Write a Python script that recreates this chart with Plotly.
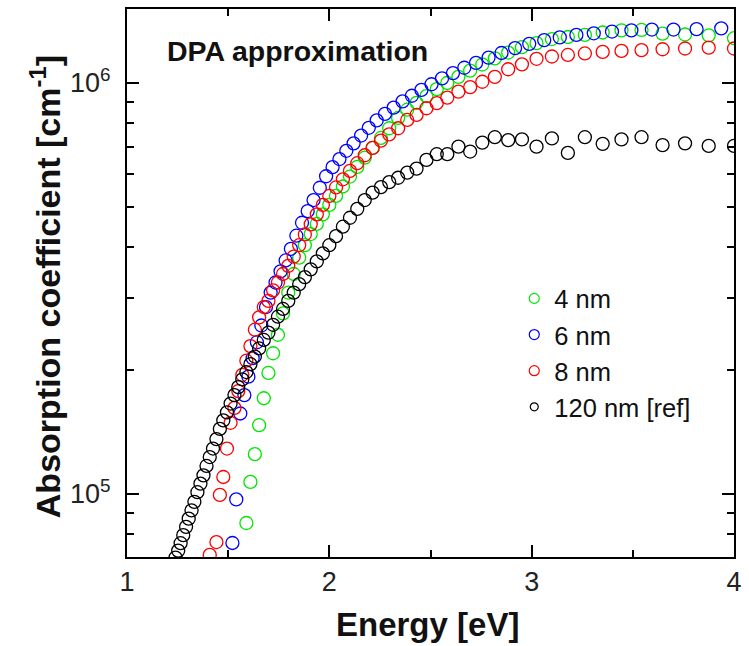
import plotly.graph_objects as go

# Photon energy grids [eV]
energy_a = [4.000, 3.875, 3.758, 3.647, 3.543, 3.444, 3.351, 3.263, 3.179, 3.100,
            3.024, 2.952, 2.884, 2.818, 2.756, 2.696, 2.638, 2.583, 2.531, 2.480,
            2.431, 2.385, 2.340, 2.296, 2.255, 2.214, 2.175, 2.138, 2.102, 2.067,
            2.033, 2.000, 1.968, 1.938, 1.908, 1.879, 1.851, 1.824, 1.797, 1.771,
            1.746, 1.722, 1.699, 1.676, 1.653, 1.632, 1.610, 1.590, 1.570, 1.550,
            1.531, 1.512, 1.494, 1.476, 1.459, 1.442, 1.425, 1.409, 1.393, 1.378,
            1.363, 1.348, 1.333, 1.319, 1.305, 1.292, 1.278, 1.265, 1.253, 1.240]
energy_b = [3.937, 3.815, 3.701, 3.594, 3.493, 3.397, 3.307, 3.221, 3.139, 3.062,
            2.988, 2.918, 2.851, 2.787, 2.725, 2.667, 2.611, 2.557, 2.505, 2.455,
            2.408, 2.362, 2.318, 2.275, 2.234, 2.195, 2.157, 2.120, 2.084, 2.050,
            2.016, 1.984, 1.953, 1.922, 1.893, 1.865, 1.837, 1.810, 1.784, 1.759,
            1.734, 1.710, 1.687, 1.664, 1.642, 1.621, 1.600, 1.580, 1.560, 1.540,
            1.521]

# Absorption coefficient [cm^-1]
alpha_4nm = [1.285e6, 1.306e6, 1.312e6, 1.318e6, 1.346e6, 1.343e6, 1.327e6, 1.309e6, 1.294e6, 1.279e6,
             1.250e6, 1.222e6, 1.186e6, 1.148e6, 1.109e6, 1.072e6, 1.035e6, 1.000e6, 966e3, 929e3,
             895e3, 861e3, 822e3, 776e3, 735e3, 695e3, 658e3, 625e3, 592e3, 560e3,
             531e3, 505e3, 479e3, 454e3, 429e3, 403e3, 376e3, 343e3, 309e3, 275e3,
             244e3, 220e3, 197e3, 171e3, 147e3, 125e3, 107e3, 85e3]
alpha_6nm = [1.358e6, 1.352e6, 1.349e6, 1.349e6, 1.343e6, 1.334e6, 1.321e6, 1.309e6, 1.291e6, 1.271e6,
             1.245e6, 1.216e6, 1.183e6, 1.153e6, 1.119e6, 1.089e6, 1.057e6, 1.026e6, 993e3, 962e3,
             931e3, 902e3, 871e3, 841e3, 811e3, 778e3, 745e3, 713e3, 684e3, 653e3,
             624e3, 593e3, 556e3, 519e3, 488e3, 457e3, 425e3, 395e3, 370e3, 348e3,
             327e3, 309e3, 285e3, 257e3, 234e3, 214e3, 193e3, 174e3, 157e3, 97e3,
             76e3]
alpha_8nm = [1.213e6, 1.219e6, 1.213e6, 1.208e6, 1.202e6, 1.197e6, 1.190e6, 1.180e6, 1.170e6, 1.160e6,
             1.145e6, 1.110e6, 1.080e6, 1.035e6, 1.007e6, 977e3, 953e3, 921e3, 893e3, 868e3,
             836e3, 813e3, 776e3, 750e3, 724e3, 695e3, 667e3, 638e3, 611e3, 583e3,
             557e3, 531e3, 505e3, 479e3, 453e3, 428e3, 403e3, 378e3, 359e3, 343e3,
             327e3, 313e3, 295e3, 285e3, 269e3, 251e3, 229e3, 211e3, 195e3, 178e3,
             162e3, 149e3, 129e3, 110e3, 99.5e3, 76.4e3, None, 71.1e3]
alpha_120nm = [703e3, 703e3, 713e3, 706e3, 738e3, 729e3, 711e3, 738e3, 676e3, 733e3,
               700e3, 729e3, 726e3, 738e3, 716e3, 681e3, 700e3, 671e3, 671e3, 650e3,
               619e3, 605e3, 588e3, 574e3, 558e3, 541e3, 519e3, 494e3, 470e3, 447e3,
               424e3, 403e3, 385e3, 368e3, 352e3, 337e3, 324e3, 309e3, 295e3, 282e3,
               270e3, 258e3, 247e3, 237e3, 226e3, 216e3, 207e3, 198e3, 190e3, 182e3,
               174e3, 166e3, 158e3, 151e3, 144e3, 136e3, 129e3, 123e3, 117e3, 111e3,
               106e3, 101e3, 95.7e3, 91.2e3, 87.1e3, 83.2e3, 79.4e3, 75.9e3, 72.8e3, 70.0e3]

series_names = ["4 nm", "6 nm", "8 nm", "120 nm [ref]"]
series_x = [energy_a, energy_b, energy_a, energy_a]
series_y = [alpha_4nm, alpha_6nm, alpha_8nm, alpha_120nm]
series_colors = ["#00e600", "#0000ff", "#ff0000", "#000000"]
legend_sizes = [10, 10, 10, 8]

x_ticks = [1, 2, 3, 4]
x_minor = [1.5, 2.5, 3.5]
y_ticks = [1e5, 1e6]
y_ticktext = ["10<sup>5</sup>", "10<sup>6</sup>"]
y_minor = [7e4, 8e4, 9e4, 2e5, 3e5, 4e5, 5e5, 6e5, 7e5, 8e5, 9e5]

FONT = "Liberation Sans, Arial, sans-serif"

fig = go.Figure()
for name, xs, ys, c in zip(series_names, series_x, series_y, series_colors):
    n = len(ys)
    fig.add_trace(go.Scatter(
        x=xs[:n], y=ys, mode="markers", name=name, showlegend=False,
        marker=dict(symbol="circle-open", size=13, color=c, line=dict(width=1.3, color=c)),
    ))
for name, c, s in zip(series_names, series_colors, legend_sizes):
    fig.add_trace(go.Scatter(
        x=[None], y=[None], mode="markers", name=name, showlegend=True,
        marker=dict(symbol="circle-open", size=s, color=c, line=dict(width=1.2, color=c)),
    ))

axis_common = dict(
    showline=True, linewidth=2, linecolor="black", mirror="ticks",
    ticks="inside", ticklen=12, tickwidth=2, tickcolor="black",
    showgrid=False, zeroline=False, ticklabeloverflow="allow",
    tickfont=dict(family=FONT, size=27, color="#222222"),
)
fig.update_xaxes(range=[1, 4], tickmode="array", tickvals=x_ticks,
                 minor=dict(tickmode="array", tickvals=x_minor, ticks="inside", ticklen=7,
                            tickwidth=2, tickcolor="black", showgrid=False),
                 **axis_common)
fig.update_yaxes(type="log", range=[4.8467, 6.180], tickmode="array", tickvals=y_ticks,
                 ticktext=y_ticktext, ticklabelstandoff=9,
                 minor=dict(tickmode="array", tickvals=y_minor, ticks="inside", ticklen=7,
                            tickwidth=2, tickcolor="black", showgrid=False),
                 **axis_common)

fig.update_layout(
    width=749, height=646,
    margin=dict(l=127, r=7, t=9, b=89),
    plot_bgcolor="white", paper_bgcolor="white",
    font=dict(family=FONT, color="#111111"),
    legend=dict(x=0.638, y=0.514, xanchor="left", yanchor="top",
                font=dict(family=FONT, size=25.5, color="#111111"),
                bgcolor="rgba(0,0,0,0)", borderwidth=0, tracegroupgap=0),
    annotations=[
        dict(text="<b>DPA approximation</b>", xref="paper", yref="paper",
             x=0.063, y=0.924, xanchor="left", yanchor="middle", showarrow=False,
             font=dict(family=FONT, size=28.5, color="#111111")),
        dict(text="<b>Energy [eV]</b>", xref="paper", yref="paper",
             x=0.495, y=-0.124, xanchor="center", yanchor="middle", showarrow=False,
             font=dict(family=FONT, size=33, color="#111111")),
        dict(text="<b>Absorption coefficient [cm<sup>-1</sup>]</b>", xref="paper", yref="paper",
             x=-0.1345, y=0.493, xanchor="center", yanchor="middle", showarrow=False,
             textangle=-90, font=dict(family=FONT, size=34, color="#111111")),
    ],
)

# remove the default page margin so the figure starts at the window's corner
fig.write_html(
    "out.html",
    config={"displayModeBar": False, "responsive": False},
    post_script="document.body.style.margin='0';document.documentElement.style.overflow='hidden';",
)
